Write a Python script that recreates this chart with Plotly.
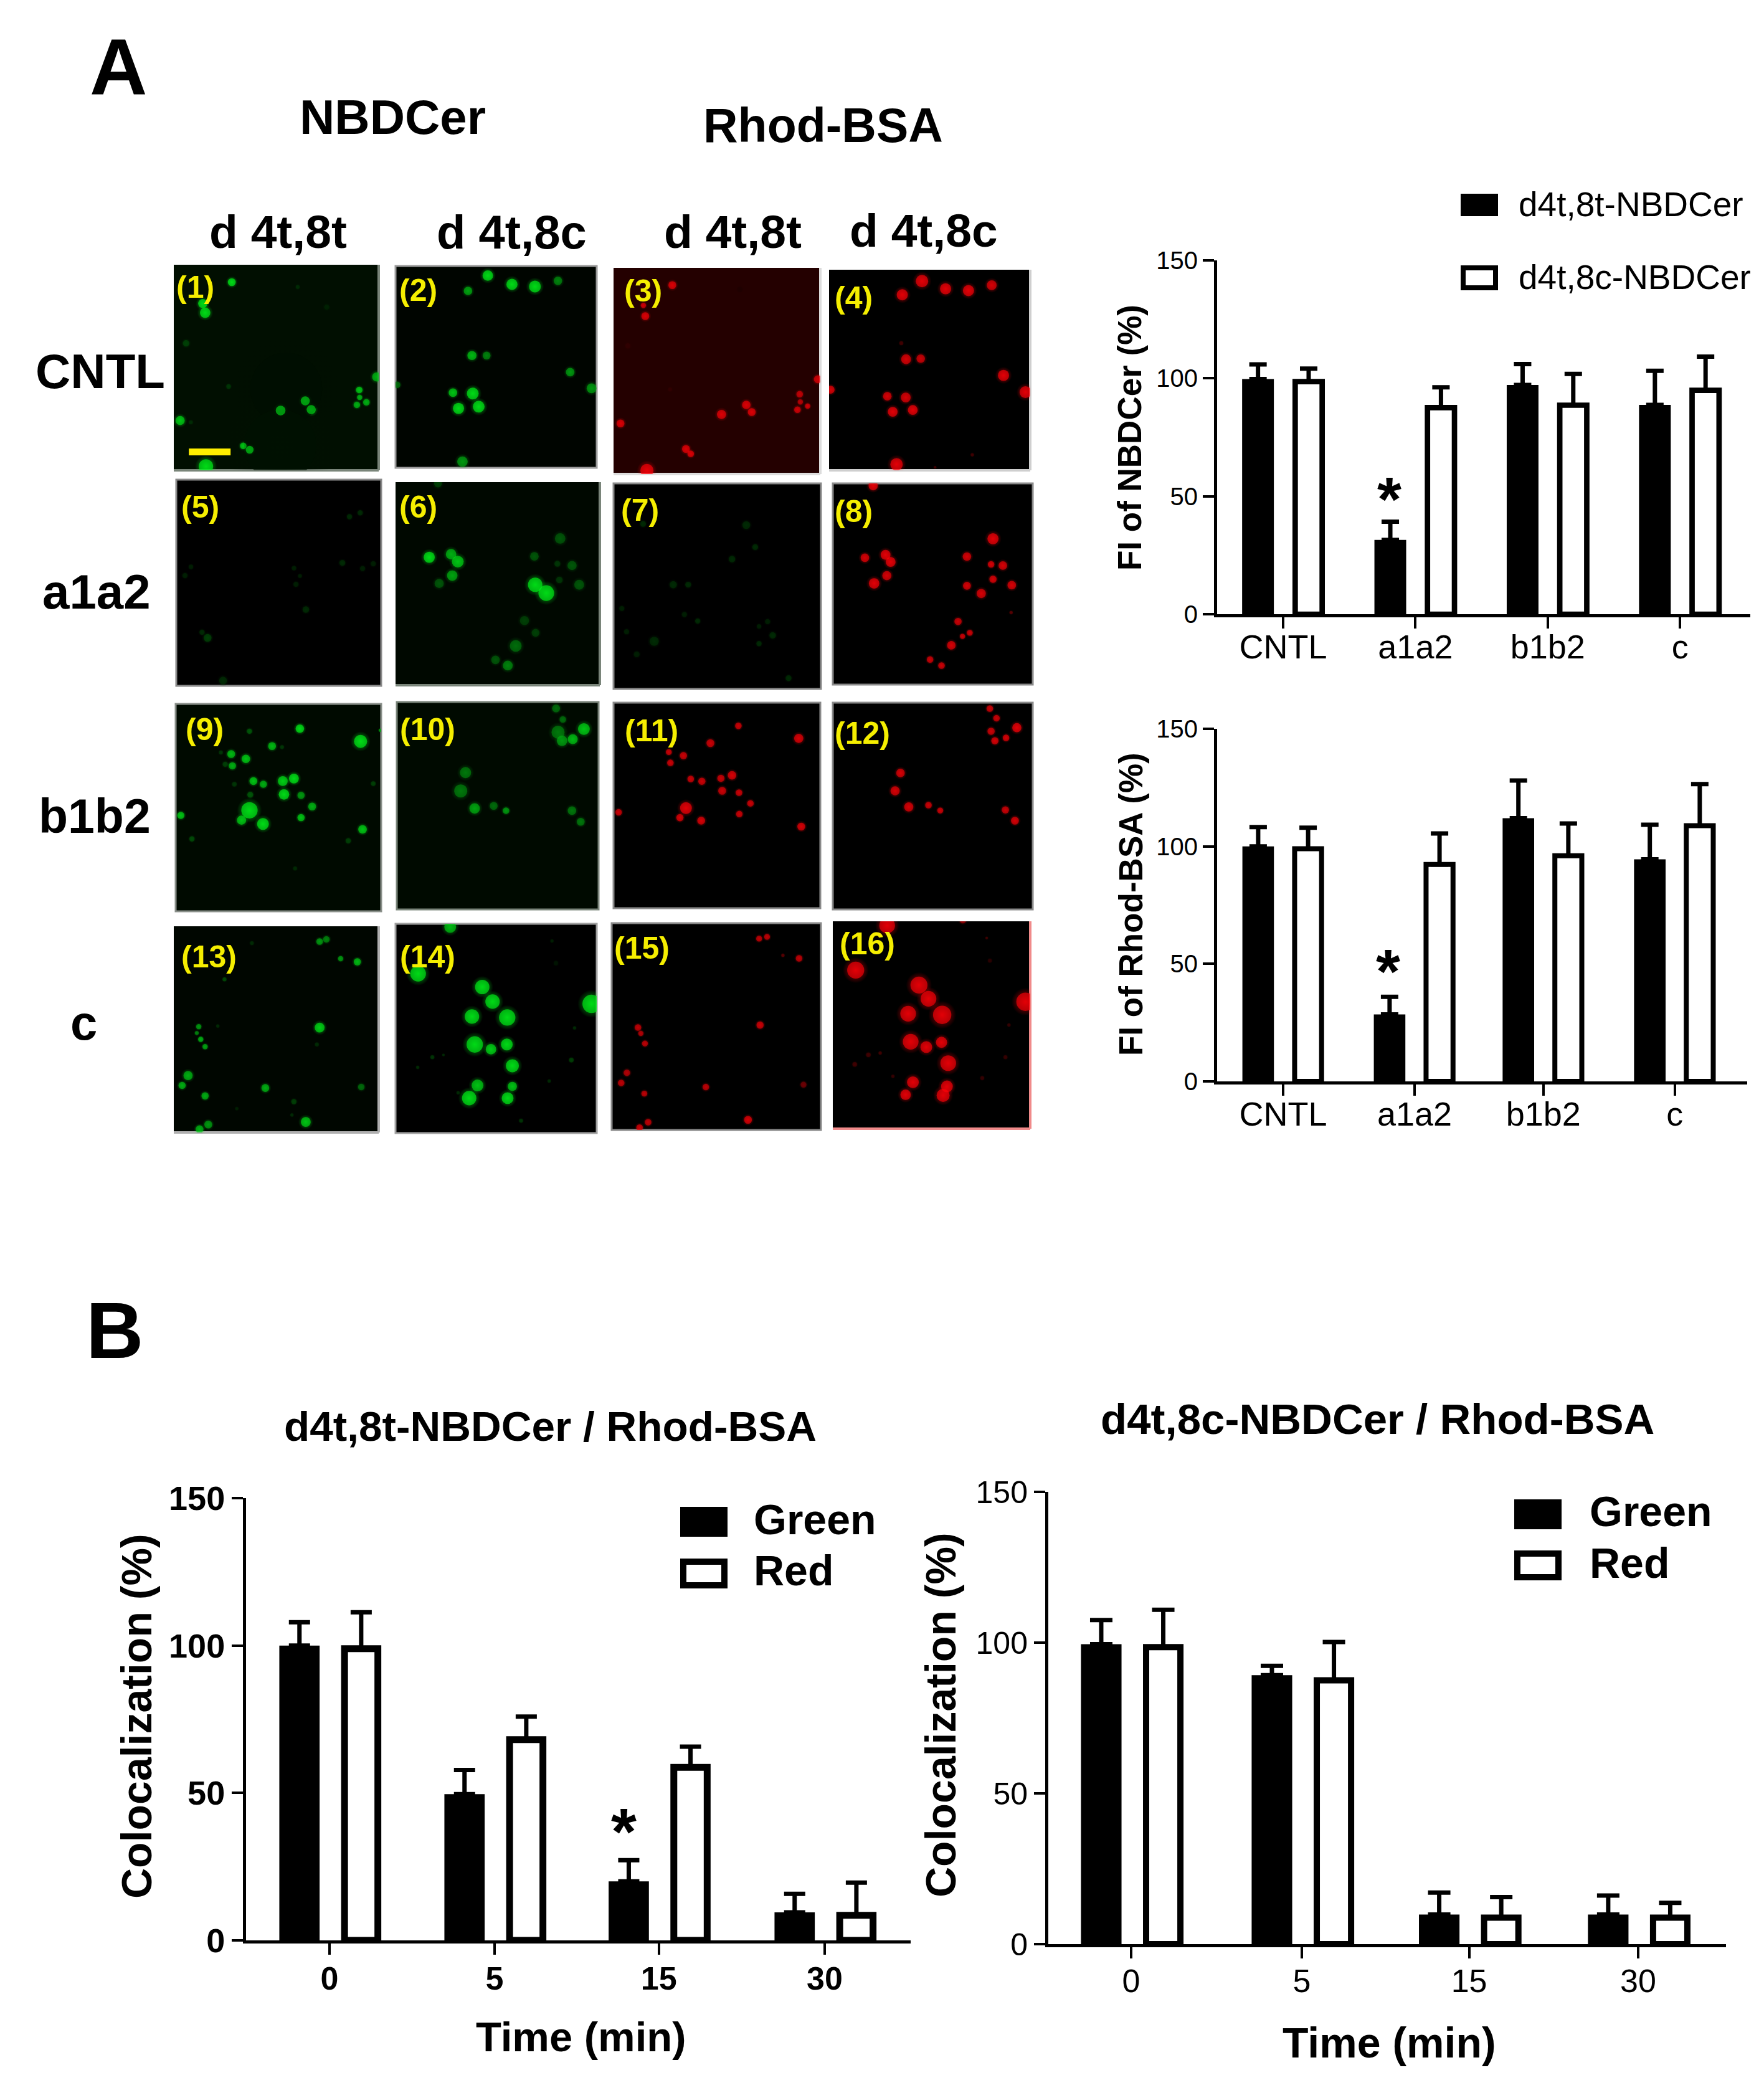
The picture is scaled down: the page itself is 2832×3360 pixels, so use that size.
import plotly.graph_objects as go

W, H = 2832, 3360
FONT = "Liberation Sans"

# ---------- bar chart data ----------
groups_a = ["CNTL", "a1a2", "b1b2", "c"]
groups_b = ["0", "5", "15", "30"]
y_ticks = [0, 50, 100, 150]

nbd_black = [99.7, 31.5, 97.2, 88.7]
nbd_black_err = [6.2, 7.7, 8.8, 14.5]
nbd_white = [98.6, 87.6, 88.6, 94.9]
nbd_white_err = [5.5, 8.6, 13.3, 14.3]

rhod_black = [100, 28.5, 112, 94.5]
rhod_black_err = [8.2, 7.5, 16, 14.7]
rhod_white = [99, 92.3, 96, 108.8]
rhod_white_err = [8.9, 13.2, 13.7, 17.7]

trans_green = [100, 49.6, 20, 9.5]
trans_green_err = [7.9, 8.2, 7.2, 6.3]
trans_red = [98.9, 68.1, 58.7, 8.5]
trans_red_err = [12.4, 7.8, 7, 11.1]

cis_green = [99.5, 89.2, 9.8, 9.8]
cis_green_err = [8, 3.1, 7.3, 6.3]
cis_red = [98.5, 87.5, 8.8, 8.8]
cis_red_err = [12.4, 12.7, 6.8, 4.9]

# ---------- micrograph spots: (x, y, diameter, brightness) in each crop's image coordinates ----------
spots_01 = [(720,890,110,.06),(705,1020,110,.07),(583,646,12,1),(510,695,14,1),(516,716,16,1),(468,786,10,.3),(749,657,6,.2),(822,703,8,.15),(575,885,7,.25),(706,940,15,.9),(768,918,14,.9),(783,938,14,.9),(904,893,10,.9),(905,910,8,.8),(922,921,10,.8),(898,927,10,.8),(948,863,14,.8),(453,963,14,.9),(480,967,6,.2),(612,1021,10,.9),(628,1030,12,.9),(518,1068,22,1)]
spots_02 = [(1228,630,16,1),(1289,650,17,1),(1347,655,18,1),(1405,642,13,.6),(1178,665,13,.75),(1188,813,14,.85),(1225,813,12,.6),(1436,851,13,.7),(1490,888,15,.7),(999,880,10,.5),(1140,898,13,.9),(1190,900,18,1),(1154,934,17,1),(1205,930,18,1),(1164,1056,16,.7)]
spots_03 = [(352,113,12,.95),(261,147,8,.9),(267,165,12,.95),(565,120,8,.12),(212,215,8,.2),(345,288,6,.2),(507,330,14,.95),(585,314,13,.95),(602,326,12,.95),(753,296,10,.85),(755,309,8,.8),(778,316,8,.9),(746,322,10,.9),(810,271,12,.9),(189,345,12,.95),(395,388,12,.95),(410,396,10,.95),(272,424,20,1)]
spots_04 = [(1137,106,19,1),(1211,119,17,1),(1283,122,17,1),(1356,113,15,.95),(1075,129,17,1),(1087,237,15,.95),(1133,236,13,.9),(1393,264,17,1),(1462,292,18,1),(850,288,12,.95),(1028,299,13,.95),(1086,301,15,.95),(1045,325,15,1),(1108,322,15,1),(1057,413,19,1),(1072,210,6,.3),(1295,397,5,.3),(1178,418,4,.3)]
spots_05 = [(880,1182,8,.2),(907,1173,8,.2),(480,1297,7,.15),(465,1317,8,.15),(740,1300,7,.15),(755,1318,6,.15),(745,1337,8,.15),(862,1288,9,.2),(913,1301,8,.15),(940,1290,8,.15),(770,1395,10,.2),(508,1447,8,.2),(522,1460,12,.3),(561,1558,12,.2)]
spots_06 = [(1080,1275,17,1),(1135,1268,16,.8),(1152,1285,18,.9),(1138,1317,16,.75),(1105,1335,14,.4),(1345,1273,13,.4),(1410,1232,16,.4),(1403,1290,9,.25),(1440,1294,14,.4),(1408,1327,10,.25),(1458,1338,15,.4),(1347,1338,22,1),(1375,1357,24,1),(1320,1420,14,.3),(1348,1448,12,.3),(1298,1478,18,.5),(1247,1510,13,.4),(1278,1523,15,.6),(1102,1106,12,.3)]
spots_07 = [(260,513,9,.2),(585,515,12,.2),(613,552,9,.2),(540,572,10,.2),(355,615,11,.2),(402,615,9,.2),(193,655,8,.15),(390,665,8,.15),(432,676,8,.2),(208,694,8,.15),(295,710,14,.2),(240,732,9,.15),(625,685,7,.15),(652,677,8,.15),(668,700,10,.2),(625,714,8,.2),(718,772,9,.2)]
spots_08 = [(983,449,14,1),(957,570,13,.95),(1022,565,15,1),(1038,577,15,1),(1026,600,14,.95),(986,613,16,1),(1360,538,17,1),(1278,568,13,.95),(1354,581,10,.95),(1391,583,13,.95),(1360,606,11,.95),(1278,617,12,.95),(1419,616,13,.95),(1323,630,14,.95),(1250,677,11,.9),(1287,696,9,.9),(1264,702,8,.9),(1229,717,13,.95),(1162,741,10,.9),(1198,751,10,.9),(1417,662,5,.4)]
spots_09 = [(755,235,13,1),(628,243,8,.4),(908,275,20,1),(685,290,12,.85),(710,293,6,.25),(582,315,12,.85),(619,330,13,.9),(556,310,6,.25),(585,352,11,.8),(567,347,8,.3),(638,400,12,.9),(663,410,11,.8),(712,400,15,.95),(740,392,15,1),(715,442,16,1),(758,445,11,.7),(630,443,9,.4),(786,480,12,.8),(628,492,25,1),(608,523,14,.9),(662,535,18,1),(758,515,11,.9),(913,552,13,.9),(455,508,11,.9),(483,582,8,.35),(877,588,8,.3),(590,410,7,.25),(940,408,7,.3),(743,675,6,.2),(958,240,5,.7)]
spots_10 = [(1400,170,12,.5),(1417,205,10,.5),(1470,235,18,.9),(1405,245,20,.55),(1415,272,16,.7),(1442,267,15,.85),(1172,372,17,.55),(1160,430,20,.55),(1195,485,16,.75),(1243,477,12,.5),(1274,492,10,.7),(1440,492,13,.55),(1462,527,12,.55)]
spots_11 = [(560,852,10,.9),(472,881,12,.9),(750,873,14,.95),(341,896,9,.9),(387,902,11,.9),(346,914,10,.9),(410,941,10,.9),(445,945,11,.9),(505,940,11,.9),(540,935,13,.95),(509,961,12,.9),(562,964,10,.9),(598,982,10,.9),(183,997,10,.9),(395,990,18,1),(376,1006,11,.95),(443,1011,12,.95),(563,1000,10,.9),(758,1021,12,.95)]
spots_12 = [(1350,823,10,.9),(1371,839,10,.9),(1435,855,14,1),(1354,861,11,.9),(1366,877,11,.95),(1401,872,10,.95),(1069,931,13,.95),(1052,961,14,.95),(1095,988,14,.95),(1157,985,10,.9),(1194,994,9,.9),(1399,993,11,.9),(1429,1011,12,.95)]
spots_13 = [(805,904,10,.7),(822,897,10,.6),(858,958,8,.7),(900,968,11,.85),(565,1023,6,.35),(634,909,6,.2),(500,1172,8,.7),(495,1192,6,.6),(505,1212,8,.8),(516,1235,8,.75),(805,1175,15,.95),(548,1170,5,.2),(473,1326,14,.8),(458,1357,11,.8),(516,1390,11,.8),(668,1365,12,.8),(910,1362,10,.5),(740,1408,8,.3),(770,1472,15,.9),(524,1480,12,.7),(502,1495,12,.8),(798,1228,6,.2),(735,1450,5,.2),(596,1430,5,.15)]
spots_14 = [(1133,858,18,.85),(1052,1005,24,1),(1214,1047,22,1),(1240,1093,22,1),(1188,1140,22,1),(1277,1143,25,1),(1195,1228,25,1),(1236,1243,16,.95),(1276,1228,18,1),(1290,1295,20,1),(1202,1357,18,.9),(1290,1360,14,.9),(1278,1397,18,1),(1181,1397,22,1),(1490,1100,28,1),(1088,1268,6,.25),(1116,1261,4,.2),(1051,1300,5,.2),(1439,1277,7,.3),(1447,1176,5,.2),(1312,1468,6,.25),(1390,902,5,.15),(1400,972,7,.1),(1383,1343,5,.2),(1153,1380,5,.2)]
spots_15 = [(625,1209,9,.85),(650,1206,9,.85),(751,1242,10,.85),(700,1237,5,.4),(243,1358,10,.85),(252,1368,8,.8),(265,1385,9,.85),(628,1354,11,.9),(208,1434,10,.8),(190,1451,10,.85),(263,1469,9,.85),(457,1458,10,.85),(765,1454,9,.5),(590,1513,12,.95),(275,1517,10,.85),(248,1526,10,.9)]
spots_16 = [(1027,1187,24,1),(1265,1178,10,.7),(928,1262,26,1),(1127,1287,26,1),(1157,1310,24,1),(1093,1335,24,1),(1200,1337,28,1),(1101,1382,24,1),(1150,1391,18,1),(1198,1383,17,1),(1219,1418,24,1),(1108,1450,18,1),(1085,1471,16,1),(1215,1457,18,1),(1203,1472,20,1),(1462,1315,28,1),(925,1420,7,.3),(968,1404,7,.3),(1005,1401,5,.3),(1045,1440,5,.25),(1326,1443,6,.25),(1399,1408,6,.25),(1340,1208,4,.3),(1350,1246,6,.2),(1410,1354,5,.25)]
scale_bar_x = [475, 580]
scale_bar_y = [1035, 1035]

# ---------- layout helpers ----------
fig = go.Figure()
layout = {}
shapes, annos = [], []

def px(x, y):
    return x / W, 1 - y / H

def text(s, x, y, size, bold=True, color="black", angle=0, xanchor="center"):
    xp, yp = px(x, y)
    annos.append(dict(text=f"<b>{s}</b>" if bold else s, x=xp, y=yp, xref="paper", yref="paper",
                      xanchor=xanchor, yanchor="middle", showarrow=False, textangle=angle,
                      font=dict(family=FONT, size=size, color=color)))

def rect(x0, y0, x1, y1, fill, line=None, lw=0):
    a, b = px(x0, y0)
    c, d = px(x1, y1)
    shapes.append(dict(type="rect", xref="paper", yref="paper", x0=a, y0=b, x1=c, y1=d, fillcolor=fill,
                       line=dict(color=line or fill, width=lw), layer="below"))

def seg(x0, y0, x1, y1, color, lw):
    a, b = px(x0, y0)
    c, d = px(x1, y1)
    shapes.append(dict(type="line", xref="paper", yref="paper", x0=a, y0=b, x1=c, y1=d,
                       line=dict(color=color, width=lw), layer="below"))

axis_no = [0]

def bar_chart(left, right, top, bottom, t0, sp, pos, labels, back, back_err, white, white_err,
              black_w, black_off, white_w, white_off, line_w, cap, tick_size, tick_bold, xtick_size,
              standoff, star):
    axis_no[0] += 1
    n = axis_no[0]
    xa, ya = f"x{n}", f"y{n}"
    weight = "bold" if tick_bold else "normal"
    layout[f"xaxis{n}"] = dict(domain=[left / W, right / W], range=[(left - t0) / sp, (right - t0) / sp],
                               anchor=ya, showline=True, linecolor="black", linewidth=5, showgrid=False,
                               zeroline=False, ticks="outside", ticklen=18, tickwidth=4, tickcolor="black",
                               tickvals=pos, ticktext=labels, tickangle=0, automargin=False,
                               ticklabelstandoff=standoff,
                               tickfont=dict(family=FONT, size=xtick_size, color="black", weight=weight))
    layout[f"yaxis{n}"] = dict(domain=[1 - bottom / H, 1 - top / H], range=[0, 150], anchor=xa,
                               showline=True, linecolor="black", linewidth=5, showgrid=False, zeroline=False,
                               ticks="outside", ticklen=18, tickwidth=4, tickcolor="black", tickvals=y_ticks,
                               automargin=False,
                               tickfont=dict(family=FONT, size=tick_size, color="black", weight=weight))
    fig.add_trace(go.Bar(x=[p + black_off for p in pos], y=back, width=black_w, xaxis=xa, yaxis=ya,
                         marker=dict(color="black", line=dict(width=0)),
                         error_y=dict(type="data", symmetric=False, array=back_err, arrayminus=[0] * 4,
                                      color="black", thickness=7, width=cap)))
    fig.add_trace(go.Bar(x=[p + white_off for p in pos], y=white, width=white_w, xaxis=xa, yaxis=ya,
                         marker=dict(color="white", line=dict(color="black", width=line_w)),
                         error_y=dict(type="data", symmetric=False, array=white_err, arrayminus=[0] * 4,
                                      color="black", thickness=7, width=cap)))
    if star:
        annos.append(dict(text="<b>*</b>", x=pos[star[0]] + black_off, y=star[1], xref=xa, yref=ya, showarrow=False,
                          xanchor="center", yanchor="middle", yshift=star[3], xshift=star[4],
                          font=dict(family=FONT, size=star[2], color="black")))

bar_chart(1954, 2810, 418, 986, 2060, 212.4, [0, 1, 2, 3], groups_a, nbd_black, nbd_black_err, nbd_white,
          nbd_white_err, .24, -.19, .204, .193, 8.7, 14, 40, False, 54, -17, (1, 52.6, 100, -14, -2))
bar_chart(1954, 2805, 1170, 1736, 2060, 211, [0, 1, 1.98, 2.98], groups_a, rhod_black, rhod_black_err,
          rhod_white, rhod_white_err, .24, -.19, .205, .19, 8, 14, 40, False, 54, -17, (1, 50.6, 100, -14, -2))
bar_chart(395, 1462, 2405, 3115, 529, 265, [0, 1, 1.995, 3], groups_b, trans_green, trans_green_err, trans_red,
          trans_red_err, .244, -.182, .202, .192, 11, 17, 54, True, 52, -6, (2, 40, 105, -15, -8))
bar_chart(1683, 2771, 2395, 3121, 1816, 271.3, [0, 1.01, 2, 3], groups_b, cis_green, cis_green_err, cis_red,
          cis_red_err, .24, -.177, .203, .19, 10, 18, 50, False, 52, -8, None)

# ---------- micrographs ----------
GREEN = (0, 245, 25)
RED = (255, 0, 8)
panels = [
    # number, spots, colour, range x, range y, box px, background, border, frame on all sides
    (1, spots_01, GREEN, (437, 953), (606, 1077), (279, 425, 608, 755), "#010f01", "#7a857a", False),
    (2, spots_02, GREEN, (995, 1503), (608, 1070), (635, 427, 958, 751), "#000500", "#9a9a9a", True),
    (3, spots_03, RED, (167, 818), (84, 430), (985, 430, 1317, 761), "#240000", "#dcdcdc", False),
    (4, spots_04, RED, (845, 1477), (87, 423), (1331, 433, 1654, 755), "#000000", "#cfcfcf", False),
    (5, spots_05, GREEN, (443, 960), (1097, 1570), (283, 770, 612, 1101), "#000000", "#8a8a8a", True),
    (6, spots_06, GREEN, (995, 1510), (1103, 1568), (635, 774, 963, 1100), "#000800", "#7a857a", False),
    (7, spots_07, GREEN, (167, 820), (445, 790), (985, 776, 1318, 1106), "#000000", "#8a8a8a", True),
    (8, spots_08, RED, (856, 1485), (445, 783), (1337, 776, 1658, 1099), "#000000", "#8a8a8a", True),
    (9, spots_09, GREEN, (442, 960), (157, 810), (282, 1130, 612, 1463), "#000a00", "#8a908a", True),
    (10, spots_10, GREEN, (999, 1507), (150, 803), (637, 1127, 961, 1460), "#000a00", "#7a857a", True),
    (11, spots_11, RED, (167, 818), (813, 1158), (985, 1128, 1317, 1458), "#000000", "#8a8a8a", True),
    (12, spots_12, RED, (856, 1485), (813, 1160), (1337, 1128, 1658, 1460), "#000000", "#8a8a8a", True),
    (13, spots_13, GREEN, (437, 954), (856, 1505), (279, 1487, 608, 1818), "#000600", "#b0b0b0", False),
    (14, spots_14, GREEN, (995, 1503), (848, 1507), (635, 1483, 958, 1819), "#000000", "#a0a0a0", True),
    (15, spots_15, RED, (160, 820), (1183, 1530), (982, 1482, 1318, 1814), "#000000", "#8a8a8a", True),
    (16, spots_16, RED, (856, 1477), (1180, 1528), (1337, 1479, 1654, 1812), "#000000", "#f08a8a", False),
]
panel_labels = {1: (313, 461), 2: (671, 466), 3: (1032, 467), 4: (1370, 478), 5: (321, 814), 6: (671, 814),
                7: (1027, 819), 8: (1370, 821), 9: (328, 1171), 10: (686, 1171), 11: (1046, 1173),
                12: (1384, 1177), 13: (335, 1536), 14: (686, 1536), 15: (1030, 1522), 16: (1392, 1515)}

def rgba(c, b, a=1):
    return f"rgba({int(c[0]*b)},{int(c[1]*b)},{int(c[2]*b)},{a})"

for num, spots, colour, rx, ry, box, bg, border, framed in panels:
    axis_no[0] += 1
    n = axis_no[0]
    xa, ya = f"x{n}", f"y{n}"
    if framed:
        rect(box[0], box[1], box[2], box[3], bg, border, 3)
    else:
        rect(box[0], box[1], box[2], box[3], bg)
        seg(box[2], box[1], box[2], box[3], border, 4)
        seg(box[0], box[3], box[2], box[3], border, 4)
    layout[f"xaxis{n}"] = dict(domain=[box[0] / W, box[2] / W], range=list(rx), visible=False, anchor=ya, automargin=False)
    layout[f"yaxis{n}"] = dict(domain=[1 - box[3] / H, 1 - box[1] / H], range=[ry[1], ry[0]], visible=False, anchor=xa, automargin=False)
    xs = [s[0] for s in spots]
    ys = [s[1] for s in spots]
    fig.add_trace(go.Scatter(x=xs, y=ys, mode="markers", xaxis=xa, yaxis=ya, marker=dict(
        size=[s[2] * 1.6 for s in spots], color=[rgba(colour, s[3], 0) for s in spots],
        line=dict(width=0), gradient=dict(type="radial", color=[rgba(colour, s[3]) for s in spots]))))
    fig.add_trace(go.Scatter(x=xs, y=ys, mode="markers", xaxis=xa, yaxis=ya, marker=dict(
        size=[s[2] * 1.05 for s in spots], color=[rgba(colour, s[3], .9) for s in spots], line=dict(width=0))))
    if num == 1:
        fig.add_trace(go.Scatter(x=scale_bar_x, y=scale_bar_y, mode="lines", xaxis=xa, yaxis=ya,
                                 line=dict(color="#ffee00", width=11)))
    lx, ly = panel_labels[num]
    text(f"({num})", lx, ly, 50, color="#f5ee00")

# ---------- free text ----------
text("A", 190, 108, 128)
text("B", 184, 2135, 128)
text("NBDCer", 630, 188, 78)
text("Rhod-BSA", 1321, 201, 77)
text("d 4t,8t", 446, 372, 75)
text("d 4t,8c", 821, 372, 76)
text("d 4t,8t", 1176, 372, 75)
text("d 4t,8c", 1483, 370, 75)
text("CNTL", 161, 596, 78)
text("a1a2", 155, 950, 78)
text("b1b2", 152, 1310, 77)
text("c", 134, 1642, 78)
text("FI of NBDCer (%)", 1813, 703, 53, angle=-90)
text("FI of Rhod-BSA (%)", 1815, 1452, 53, angle=-90)
text("d4t,8t-NBDCer / Rhod-BSA", 883, 2289, 67.5)
text("d4t,8c-NBDCer / Rhod-BSA", 2211, 2278, 69)
text("Colocalization (%)", 219, 2755, 68, angle=-90)
text("Colocalization (%)", 1510, 2753, 68, angle=-90)
text("Time (min)", 933, 3269, 67)
text("Time (min)", 2230, 3279, 68)

# legends
rect(2345, 311, 2405, 347, "black")
rect(2349, 430, 2401, 462, "white", "black", 8)
text("d4t,8t-NBDCer", 2436, 328, 55, bold=False, xanchor="left")
text("d4t,8c-NBDCer", 2436, 445, 55, bold=False, xanchor="left")
rect(1092, 2419, 1168, 2467, "black")
rect(1097, 2507, 1163, 2545, "white", "black", 10)
text("Green", 1208, 2439, 68, xanchor="left")
text("Red", 1208, 2521, 68, xanchor="left")
rect(2431, 2407, 2507, 2455, "black")
rect(2436, 2494, 2502, 2532, "white", "black", 10)
text("Green", 2550, 2426, 68, xanchor="left")
text("Red", 2550, 2509, 68, xanchor="left")

fig.update_layout(width=W, height=H, margin=dict(l=0, r=0, t=0, b=0, autoexpand=False), paper_bgcolor="white",
                  plot_bgcolor="rgba(0,0,0,0)", showlegend=False, barmode="overlay", shapes=shapes,
                  annotations=annos, **layout)
fig.write_html("out.html", config={"displayModeBar": False}, post_script="document.body.style.margin='0';")
